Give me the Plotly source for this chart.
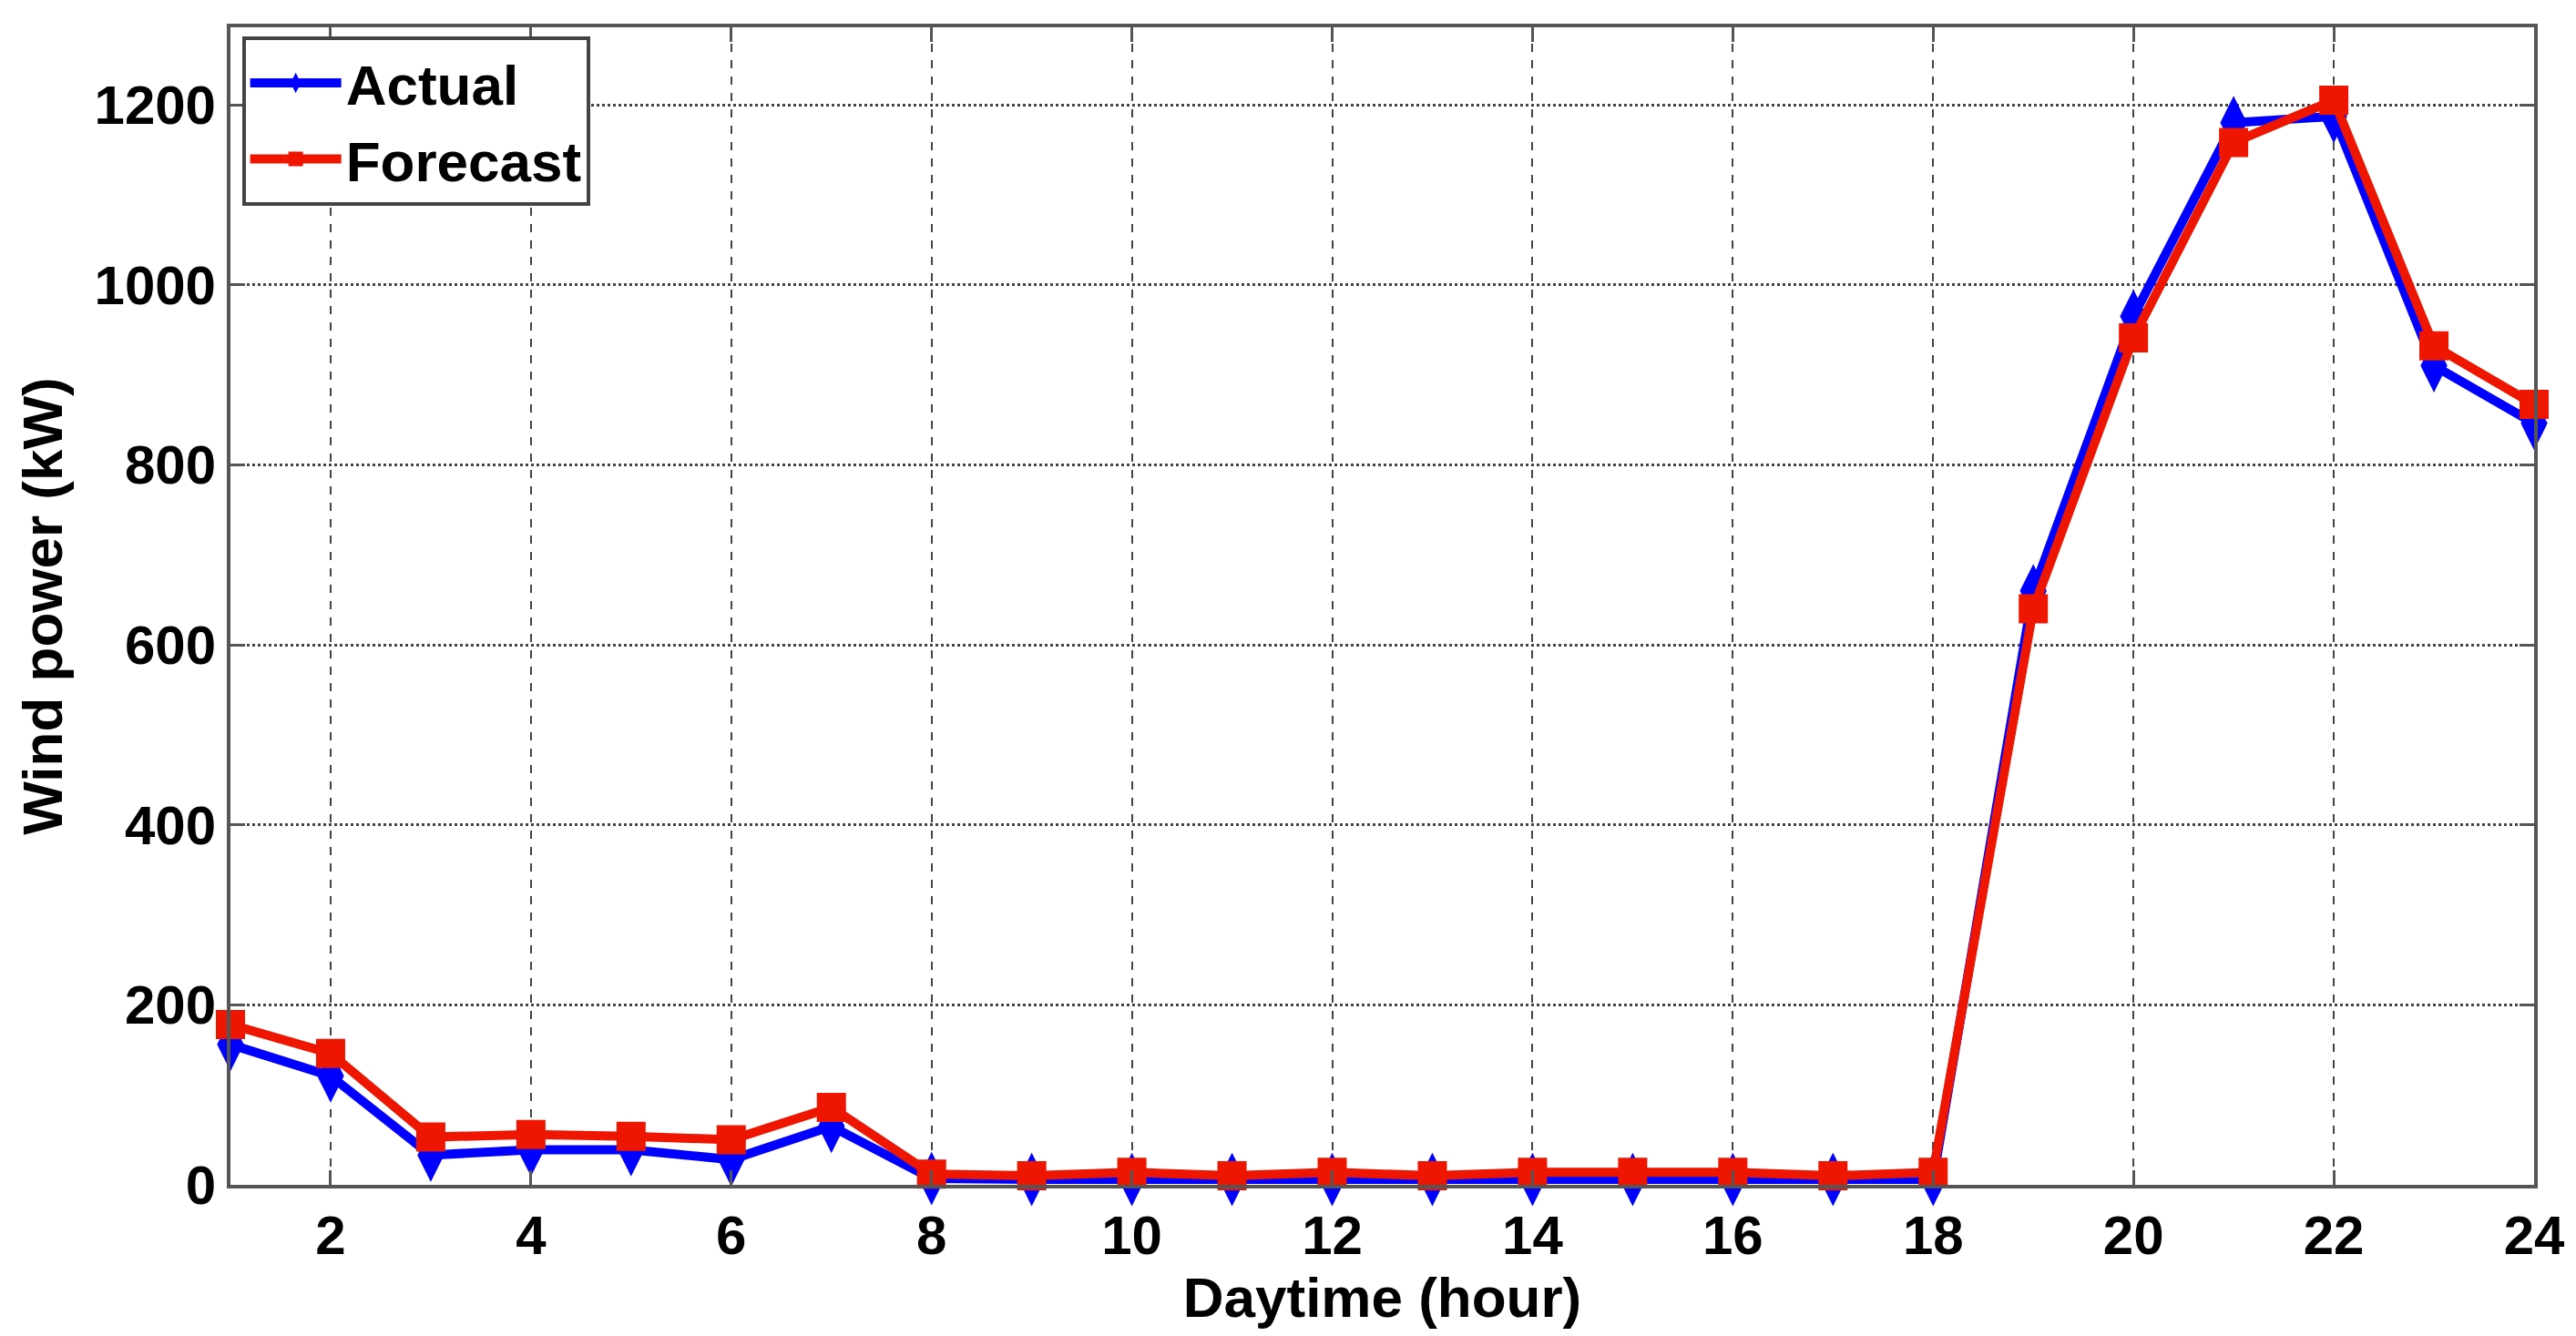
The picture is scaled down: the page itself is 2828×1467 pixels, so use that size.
import plotly.graph_objects as go

# data
hours = list(range(1, 25))
actual = [156, 121, 33, 39, 39, 28, 65, 7, 6, 6, 6, 6, 6, 6, 6, 6, 6, 6,
          660, 965, 1180, 1187, 910, 846]
forecast = [178, 146, 53, 56, 54, 50, 86, 12, 10, 14, 10, 14, 10, 14, 14, 14, 10, 14,
            640, 941, 1158, 1205, 932, 867]

x_ticks = list(range(2, 25, 2))
y_ticks = list(range(0, 1201, 200))

FONT = "Liberation Sans, Arial, Helvetica, sans-serif"
AXIS_COLOR = "#555555"

fig = go.Figure()

# Actual
fig.add_trace(
    go.Scatter(
        x=hours,
        y=actual,
        mode="lines+markers",
        name="Actual",
        line=dict(color="#0000ff", width=10),
        marker=dict(symbol="diamond-tall", size=42, color="#0000ff", line_width=0),
        cliponaxis=False,
    )
)

# Forecast
fig.add_trace(
    go.Scatter(
        x=hours,
        y=forecast,
        mode="lines+markers",
        name="Forecast",
        line=dict(color="#ee1600", width=10),
        marker=dict(symbol="square", size=32, color="#ee1600", line_width=0),
        cliponaxis=False,
    )
)

# X軸
fig.update_xaxes(
    range=[1, 24],
    tickvals=x_ticks,
    showgrid=True,
    gridcolor="#444444",
    gridwidth=2,
    griddash="dash",
    showline=True,
    linewidth=4,
    linecolor=AXIS_COLOR,
    mirror="ticks",
    ticks="inside",
    ticklen=16,
    tickwidth=3,
    tickcolor=AXIS_COLOR,
    tickfont=dict(family=FONT, size=60, color="black", weight="bold"),
    zeroline=False,
    title=dict(text="Daytime (hour)", font=dict(family=FONT, size=62, color="black", weight="bold"), standoff=12),
)

# Y軸
fig.update_yaxes(
    range=[0, 1286],
    tickvals=y_ticks,
    showgrid=True,
    gridcolor="#444444",
    gridwidth=3,
    griddash="dot",
    showline=True,
    linewidth=4,
    linecolor=AXIS_COLOR,
    mirror="ticks",
    ticks="inside",
    ticklen=16,
    tickwidth=3,
    tickcolor=AXIS_COLOR,
    tickfont=dict(family=FONT, size=60, color="black", weight="bold"),
    zeroline=False,
    title=dict(text="Wind power (kW)", font=dict(family=FONT, size=62, color="black", weight="bold"), standoff=16),
)

fig.update_layout(
    width=2828,
    height=1467,
    margin=dict(l=245, r=54, t=22, b=174, autoexpand=False),
    paper_bgcolor="white",
    plot_bgcolor="white",
    showlegend=True,
    legend=dict(
        x=0.005,
        y=0.992,
        xanchor="left",
        yanchor="top",
        bgcolor="white",
        bordercolor="#444444",
        borderwidth=4,
        font=dict(family=FONT, size=62, color="black", weight="bold"),
        itemwidth=100,
        tracegroupgap=0,
    ),
)

fig.write_html("out.html")
